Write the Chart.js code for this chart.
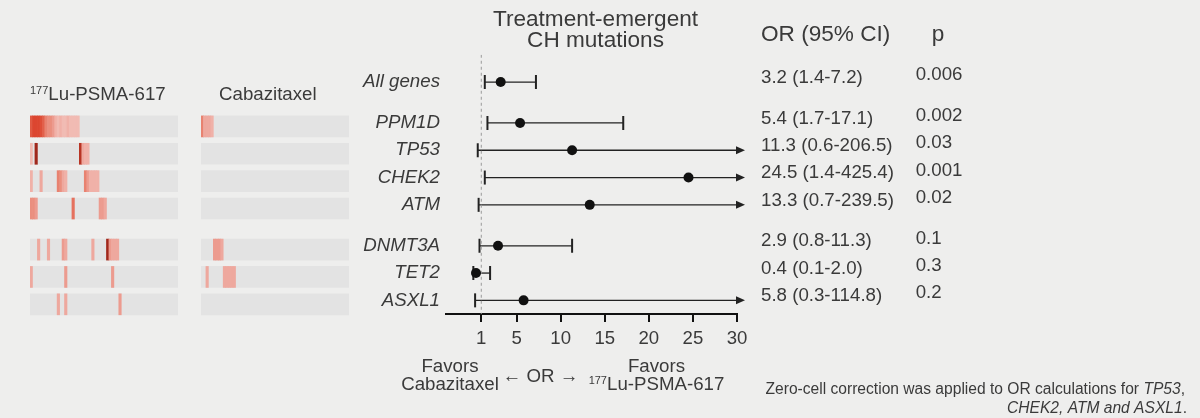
<!DOCTYPE html>
<html>
<head>
<meta charset="utf-8">
<script src="https://cdn.jsdelivr.net/npm/chart.js@4.4.1/dist/chart.umd.min.js"></script>
<style>
  html, body { margin: 0; padding: 0; background: #eeeeed; }
  #page { position: relative; width: 1200px; height: 418px; overflow: hidden; }
  #forestWrap { position: absolute; left: 0; top: 0; width: 1200px; height: 418px; }
  .heat { position: absolute; }
</style>
</head>
<body>
<div id="page">
  <div id="forestWrap"><canvas id="forest"></canvas></div>
  <canvas id="heatLu" class="heat" width="148" height="260" style="left:30px; top:57.5px;"></canvas>
  <canvas id="heatCab" class="heat" width="148" height="260" style="left:201px; top:57.5px;"></canvas>
</div>
<script>
// ---- forest plot data ----
const genes = ['All genes', 'PPM1D', 'TP53', 'CHEK2', 'ATM', 'DNMT3A', 'TET2', 'ASXL1'];
const rowPos = [0, 1.5, 2.5, 3.5, 4.5, 6, 7, 8];
const orVal = [3.2, 5.4, 11.3, 24.5, 13.3, 2.9, 0.4, 5.8];
const ciLow = [1.4, 1.7, 0.6, 1.4, 0.7, 0.8, 0.1, 0.3];
const ciHigh = [7.2, 17.1, 206.5, 425.4, 239.5, 11.3, 2.0, 114.8];
const pText = ['0.006', '0.002', '0.03', '0.001', '0.02', '0.1', '0.3', '0.2'];
const xTicks = [1, 5, 10, 15, 20, 25, 30];

// ---- heatmap data: [patient column, mutation intensity] per gene row ----
const nPatients = 60;
const luPPM1D = [[0,.85],[1,.95],[2,.95],[3,.95],[4,.9],[5,.8],[6,.6],[7,.55],[8,.55],[9,.5],[10,.4],[11,.35],[12,.4],[13,.35],[14,.35],[15,.4],[16,.35],[17,.35],[18,.35],[19,.35]];
const luTP53 = [[0,.35],[2,1.2],[20,1.1],[21,.45],[22,.4],[23,.4]];
const luCHEK2 = [[0,.4],[4,.45],[11,.6],[12,.55],[13,.45],[14,.4],[22,.6],[23,.5],[24,.4],[25,.4],[26,.4],[27,.4]];
const luATM = [[0,.55],[1,.55],[2,.5],[17,.7],[28,.5],[29,.5],[30,.45]];
const luDNMT3A = [[3,.45],[7,.45],[13,.5],[14,.45],[25,.45],[31,1.2],[32,.5],[33,.45],[34,.45],[35,.45]];
const luTET2 = [[0,.45],[14,.5],[33,.5]];
const luASXL1 = [[11,.45],[14,.45],[36,.5]];

const cabPPM1D = [[0,.6],[1,.45],[2,.45],[3,.45],[4,.4]];
const cabTP53 = [];
const cabCHEK2 = [];
const cabATM = [];
const cabDNMT3A = [[5,.5],[6,.5],[7,.5],[8,.45]];
const cabTET2 = [[2,.45],[9,.45],[10,.45],[11,.45],[12,.45],[13,.45]];
const cabASXL1 = [];

const luRows = [luPPM1D, luTP53, luCHEK2, luATM, luDNMT3A, luTET2, luASXL1];
const cabRows = [cabPPM1D, cabTP53, cabCHEK2, cabATM, cabDNMT3A, cabTET2, cabASXL1];

const FONT = '"Liberation Sans", Arial, sans-serif';
const TEXT = '#3a3a3a';
Chart.defaults.font.family = FONT;
Chart.defaults.color = TEXT;

function font(size, italic) {
  return (italic ? 'italic ' : '') + size + 'px ' + FONT;
}

// colour scale for cells
const stops = [
  [0.30, [243, 196, 189]],
  [0.45, [238, 168, 158]],
  [0.60, [232, 130, 112]],
  [0.85, [224, 88, 66]],
  [0.95, [220, 70, 48]],
  [1.20, [160, 40, 28]]
];
function cellColor(v) {
  if (v <= stops[0][0]) return 'rgb(' + stops[0][1].join(',') + ')';
  for (let i = 1; i < stops.length; i++) {
    if (v <= stops[i][0]) {
      const t = (v - stops[i - 1][0]) / (stops[i][0] - stops[i - 1][0]);
      const a = stops[i - 1][1], b = stops[i][1];
      return 'rgb(' + a.map((c, k) => Math.round(c + (b[k] - c) * t)).join(',') + ')';
    }
  }
  return 'rgb(' + stops[stops.length - 1][1].join(',') + ')';
}

function makeHeatmap(id, rows) {
  const heatPos = rowPos.slice(1);
  const cells = [];
  const colors = [];
  rows.forEach((row, r) => {
    row.forEach(([col, v]) => {
      cells.push({ x: [col, col + 1], y: heatPos[r] });
      colors.push(cellColor(v));
    });
  });
  return new Chart(document.getElementById(id), {
    type: 'bar',
    data: {
      datasets: [
        {
          data: heatPos.map(p => ({ x: [0, nPatients], y: p })),
          backgroundColor: '#e3e3e3',
          barThickness: 21,
          grouped: false,
          order: 2
        },
        {
          data: cells,
          backgroundColor: colors,
          barThickness: 21,
          grouped: false,
          order: 1
        }
      ]
    },
    options: {
      indexAxis: 'y',
      responsive: false,
      animation: false,
      layout: { padding: 0 },
      plugins: { legend: { display: false }, tooltip: { enabled: false } },
      scales: {
        x: { type: 'linear', min: 0, max: nPatients, offset: false, display: false },
        y: { type: 'linear', min: -1, max: 8.5, reverse: true, offset: false, display: false }
      }
    }
  });
}

makeHeatmap('heatLu', luRows);
makeHeatmap('heatCab', cabRows);

// ---- whiskers, caps and arrows for the CIs ----
const whiskerPlugin = {
  id: 'whiskers',
  beforeDatasetsDraw(chart) {
    const { ctx, scales: { x, y } } = chart;
    const xMax = x.max;
    ctx.save();
    ctx.strokeStyle = '#222';
    ctx.fillStyle = '#222';
    rowPos.forEach((p, i) => {
      const py = y.getPixelForValue(p);
      const x0 = x.getPixelForValue(ciLow[i]);
      const clipped = ciHigh[i] > xMax;
      const x1 = clipped ? x.getPixelForValue(xMax) + 8 : x.getPixelForValue(ciHigh[i]);
      ctx.lineWidth = 1.3;
      ctx.beginPath();
      ctx.moveTo(x0, py);
      ctx.lineTo(clipped ? x1 - 6 : x1, py);
      ctx.stroke();
      ctx.lineWidth = 2;
      ctx.beginPath();
      ctx.moveTo(x0, py - 7);
      ctx.lineTo(x0, py + 7);
      if (!clipped) {
        ctx.moveTo(x1, py - 7);
        ctx.lineTo(x1, py + 7);
      }
      ctx.stroke();
      if (clipped) {
        ctx.beginPath();
        ctx.moveTo(x1, py);
        ctx.lineTo(x1 - 9, py - 4);
        ctx.lineTo(x1 - 9, py + 4);
        ctx.closePath();
        ctx.fill();
      }
    });
    ctx.restore();
  }
};

function drawSup(ctx, sup, main, x, y, align) {
  ctx.font = font(11);
  const ws = ctx.measureText(sup).width;
  ctx.font = font(18.7);
  const wm = ctx.measureText(main).width;
  let start = x;
  if (align === 'center') start = x - (ws + wm) / 2;
  ctx.textAlign = 'left';
  ctx.font = font(11);
  ctx.fillText(sup, start, y - 6.5);
  ctx.font = font(18.7);
  ctx.fillText(main, start + ws, y);
}

function drawRuns(ctx, runs, right, y, size) {
  let total = 0;
  runs.forEach(r => { ctx.font = font(size, r[1]); total += ctx.measureText(r[0]).width; });
  let cx = right - total;
  ctx.textAlign = 'left';
  runs.forEach(r => {
    ctx.font = font(size, r[1]);
    ctx.fillText(r[0], cx, y);
    cx += ctx.measureText(r[0]).width;
  });
}

// ---- titles, OR / p columns, footnotes ----
const textPlugin = {
  id: 'texts',
  afterDraw(chart) {
    const { ctx, scales: { y } } = chart;
    ctx.save();
    ctx.fillStyle = TEXT;
    ctx.textBaseline = 'alphabetic';

    ctx.font = font(22.6);
    ctx.textAlign = 'center';
    ctx.fillText('Treatment-emergent', 595.5, 26);
    ctx.fillText('CH mutations', 595.5, 47);

    ctx.textAlign = 'left';
    ctx.fillText('OR (95% CI)', 761, 40.7);
    ctx.textAlign = 'center';
    ctx.fillText('p', 938, 40.7);

    ctx.font = font(18.7);
    rowPos.forEach((p, i) => {
      const py = y.getPixelForValue(p);
      ctx.textAlign = 'left';
      const label = orVal[i].toFixed(1) + ' (' + ciLow[i].toFixed(1) + '-' + ciHigh[i].toFixed(1) + ')';
      ctx.fillText(label, 761, py + 0.7);
      ctx.fillText(pText[i], 915.7, py - 2);
    });

    // arm titles over the heatmaps
    drawSup(ctx, '177', 'Lu-PSMA-617', 30, 100, 'left');
    ctx.font = font(18.7);
    ctx.textAlign = 'left';
    ctx.fillText('Cabazitaxel', 219, 100);

    // axis direction labels
    ctx.textAlign = 'center';
    ctx.fillText('Favors', 450, 371.7);
    ctx.fillText('Cabazitaxel', 450, 390);
    ctx.fillText('\u2190 OR \u2192', 540.5, 381.7);
    ctx.fillText('Favors', 656.5, 371.7);
    drawSup(ctx, '177', 'Lu-PSMA-617', 656.5, 390, 'center');

    // footnote
    drawRuns(ctx, [['Zero-cell correction was applied to OR calculations for ', false], ['TP53', true], [',', false]], 1185, 394, 15.6);
    drawRuns(ctx, [['CHEK2', true], [', ', true], ['ATM', true], [' and ', true], ['ASXL1', true], ['.', false]], 1187, 413, 15.6);
    ctx.restore();
  }
};

new Chart(document.getElementById('forest'), {
  type: 'scatter',
  data: {
    datasets: [
      {
        data: orVal.map((v, i) => ({ x: v, y: rowPos[i] })),
        backgroundColor: '#111',
        pointRadius: 5,
        pointBorderWidth: 0,
        order: 0
      },
      {
        type: 'line',
        data: [{ x: 1, y: -1 }, { x: 1, y: 8.5 }],
        borderColor: '#9a9a9a',
        borderWidth: 1,
        borderDash: [3, 3],
        pointRadius: 0,
        order: 1
      }
    ]
  },
  options: {
    responsive: true,
    maintainAspectRatio: false,
    animation: false,
    layout: { padding: { left: 346, right: 463, top: 54.75, bottom: 64 } },
    plugins: { legend: { display: false }, tooltip: { enabled: false } },
    scales: {
      x: {
        type: 'linear',
        min: -3,
        max: 30,
        afterBuildTicks: s => { s.ticks = xTicks.map(v => ({ value: v })); },
        afterFit: s => { s.height = 40; },
        ticks: { autoSkip: false, maxRotation: 0, padding: 6, color: TEXT, font: { size: 18.6 } },
        grid: { drawOnChartArea: false, drawTicks: true, tickLength: 8, color: '#111', lineWidth: 2 },
        border: { display: true, color: '#111', width: 2 }
      },
      y: {
        type: 'linear',
        min: -1,
        max: 8.5,
        reverse: true,
        afterBuildTicks: s => { s.ticks = rowPos.map(v => ({ value: v })); },
        afterFit: s => { s.width = 100; },
        ticks: {
          autoSkip: false,
          padding: 6,
          color: TEXT,
          font: { size: 18.7, style: 'italic' },
          callback: (v, i) => genes[i]
        },
        grid: { display: false, drawTicks: false },
        border: { display: false }
      }
    }
  },
  plugins: [whiskerPlugin, textPlugin]
});
</script>
</body>
</html>
